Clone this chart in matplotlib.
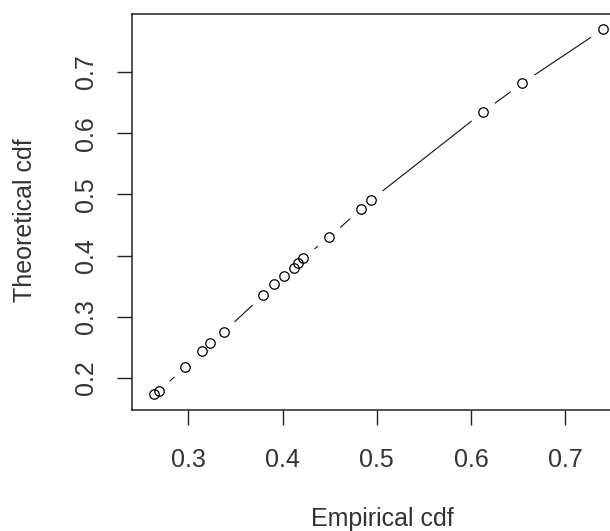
import matplotlib
matplotlib.use("Agg")
import matplotlib.pyplot as plt

plt.rcParams['font.family'] = ['Liberation Sans', 'DejaVu Sans']

empirical = [0.2636, 0.2692, 0.2965, 0.3149, 0.3234, 0.3376, 0.3796, 0.3913,
             0.4016, 0.4122, 0.4165, 0.4214, 0.4494, 0.4837, 0.4936, 0.6125,
             0.6542, 0.7406]
theoretical = [0.1734, 0.1788, 0.2180, 0.2441, 0.2572, 0.2752, 0.3356, 0.3531,
               0.3667, 0.3797, 0.3871, 0.3956, 0.4299, 0.4766, 0.4904, 0.6342,
               0.6815, 0.7703]
xticks = [0.3, 0.4, 0.5, 0.6, 0.7]
yticks = [0.2, 0.3, 0.4, 0.5, 0.6, 0.7]

fig = plt.figure(figsize=(6.10, 5.31), dpi=100)
ax = fig.add_axes([132/610, 1 - 410/531, (625 - 132)/610, (410 - 14)/531])

# line (R type="b": segments with gaps around points)
ax.plot(empirical, theoretical, color='#111111', lw=0.8, zorder=1)
ax.plot(empirical, theoretical, ls='none', marker='o', ms=21, mfc='white',
        mec='none', zorder=1.5)
ax.plot(empirical, theoretical, ls='none', marker='o', ms=6.8, mfc='none',
        mec='black', mew=0.9, zorder=3)

ax.set_xlim(0.2402, 0.7635)
ax.set_ylim(0.1477, 0.7948)
ax.set_xticks(xticks)
ax.set_yticks(yticks)
ax.set_xticklabels([f"{v:.1f}" for v in xticks])
ax.set_yticklabels([f"{v:.1f}" for v in yticks])
for s in ax.spines.values():
    s.set_linewidth(1.1)
    s.set_color('#222222')
ax.tick_params(axis='both', direction='out', length=10.5, width=1.0,
               labelsize=18, colors='#222222', labelcolor='#333333')
ax.tick_params(axis='x', pad=17)
ax.tick_params(axis='y', pad=14, labelrotation=90)
for lab in ax.get_yticklabels():
    lab.set_va('center')

fig.text(382/610, 1 - 519/531, 'Empirical cdf', ha='center', va='center',
         fontsize=18, color='#333333')
fig.text(25/610, 1 - 220/531, 'Theoretical cdf', ha='center', va='center',
         fontsize=18, color='#333333', rotation=90)

fig.savefig('out.png', dpi=100)
